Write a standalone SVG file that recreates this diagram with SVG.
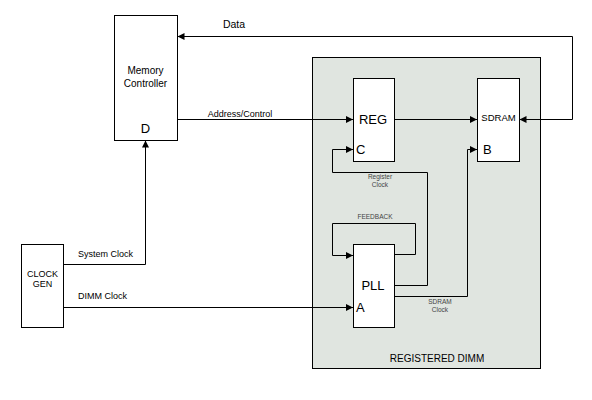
<svg xmlns="http://www.w3.org/2000/svg" width="592" height="400" viewBox="0 0 592 400">
<style>
.box{fill:#fff;stroke:#000;stroke-width:1}
.ln{fill:none;stroke:#000;stroke-width:1}
.arr{marker-end:url(#ah)}
text{font-family:"Liberation Sans",Arial,sans-serif;fill:#000}
.lbl{font-size:9px}
.sm{font-size:6.5px;fill:#444}
.big{font-size:13px}
.mid{font-size:10px}
</style>
<defs>
<marker id="ah" markerUnits="userSpaceOnUse" markerWidth="8" markerHeight="8" refX="7" refY="4" orient="auto">
<path d="M0,0.5 L7,4 L0,7.5 Z" fill="#000"/>
</marker>
</defs>
<rect width="592" height="400" fill="#fff"/>
<g id="dimm">
<rect x="312.5" y="57.5" width="228" height="311" fill="#e0e5e0" stroke="#000"/>
<text x="437" y="362" class="mid" text-anchor="middle" font-size="11">REGISTERED DIMM</text>
</g>
<g id="connectors">
<path class="ln arr" d="M572.5,119.5 L572.5,36.5 L177.5,36.5"/>
<path class="ln arr" d="M177,119.5 L353,119.5"/>
<path class="ln arr" d="M394,119.5 L477,119.5"/>
<path class="ln arr" d="M572.5,119.5 L519.5,119.5"/>
<path class="ln arr" d="M394,285.5 L427.5,285.5 L427.5,172.5 L332.5,172.5 L332.5,149.5 L353,149.5"/>
<path class="ln arr" d="M394,296.5 L467.5,296.5 L467.5,149.5 L477,149.5"/>
<path class="ln arr" d="M394,254.5 L415.5,254.5 L415.5,223.5 L332.5,223.5 L332.5,255.5 L353,255.5"/>
<path class="ln arr" d="M63,307.5 L353,307.5"/>
<path class="ln arr" d="M63,264.5 L145.5,264.5 L145.5,140.5"/>
<text x="234" y="28" text-anchor="middle" font-size="10.5">Data</text>
<text x="240" y="117" class="lbl" text-anchor="middle" font-size="8.5">Address/Control</text>
<text x="380" y="179" class="sm" text-anchor="middle">Register</text>
<text x="380" y="187" class="sm" text-anchor="middle">Clock</text>
<text x="375" y="219" class="sm" text-anchor="middle">FEEDBACK</text>
<text x="440" y="304" class="sm" text-anchor="middle">SDRAM</text>
<text x="440" y="312" class="sm" text-anchor="middle">Clock</text>
<text x="78" y="257" class="lbl">System Clock</text>
<text x="78" y="299" class="lbl">DIMM Clock</text>
</g>
<g id="memctrl">
<rect class="box" x="114.5" y="15.5" width="63" height="125"/>
<text x="145.5" y="74" class="mid" text-anchor="middle">Memory</text>
<text x="145.5" y="87" class="mid" text-anchor="middle">Controller</text>
<text x="145.5" y="133" class="big" text-anchor="middle" font-size="12">D</text>
</g>
<g id="reg">
<rect class="box" x="353.5" y="78.5" width="41" height="83"/>
<text x="373" y="124" class="big" text-anchor="middle">REG</text>
<text x="356" y="154" class="big">C</text>
</g>
<g id="sdram">
<rect class="box" x="477.5" y="78.5" width="42" height="83"/>
<text x="498.5" y="121" text-anchor="middle" font-size="9.5">SDRAM</text>
<text x="483" y="154" class="big">B</text>
</g>
<g id="pll">
<rect class="box" x="353.5" y="244.5" width="41" height="83"/>
<text x="373" y="290" class="big" text-anchor="middle">PLL</text>
<text x="356" y="312" class="big">A</text>
</g>
<g id="clockgen">
<rect class="box" x="21.5" y="244.5" width="42" height="83"/>
<text x="42.5" y="277" class="lbl" text-anchor="middle">CLOCK</text>
<text x="42.5" y="287" class="lbl" text-anchor="middle">GEN</text>
</g>
</svg>
